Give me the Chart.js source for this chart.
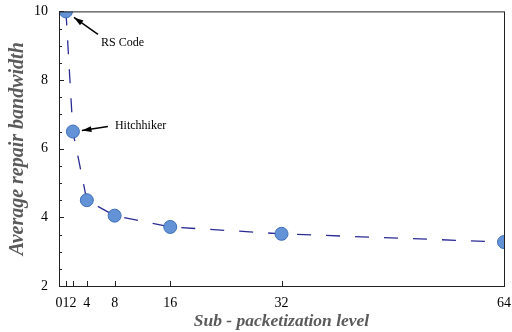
<!DOCTYPE html>
<html>
<head>
<meta charset="utf-8">
<script src="https://cdn.jsdelivr.net/npm/chart.js@4.4.0/dist/chart.umd.min.js"></script>
<style>
  html, body { margin: 0; padding: 0; background: #fff; }
  #wrap { width: 512px; height: 332px; }
</style>
</head>
<body>
<div id="wrap"><canvas id="chart" width="512" height="332"></canvas></div>
<script>
const levels = [1, 2, 4, 8, 16, 32, 64];
const bandwidth = [10, 6.5, 4.5, 4.05, 3.72, 3.52, 3.28];
const xTicks = [0, 1, 2, 4, 8, 16, 32, 64];
const yTicks = [2, 4, 6, 8, 10];

const serif = '"Liberation Serif", "DejaVu Serif", serif';

// box frame, inward ticks and the two callouts
const framePlugin = {
  id: 'frame',
  afterDraw(chart) {
    const ctx = chart.ctx;
    const a = chart.chartArea;
    const x = chart.scales.x, y = chart.scales.y;
    ctx.save();
    ctx.strokeStyle = '#222';
    ctx.lineWidth = 1;
    ctx.strokeRect(a.left + 0.5, a.top + 0.5, a.right - a.left, a.bottom - a.top);

    ctx.beginPath();
    for (let v = 2; v <= 10; v += 0.5) {
      const py = Math.round(y.getPixelForValue(v)) + 0.5;
      const len = (v % 2 === 0) ? 5 : 3;
      ctx.moveTo(a.left, py); ctx.lineTo(a.left + len, py);
    }
    xTicks.forEach(v => {
      const px = Math.round(x.getPixelForValue(v)) + 0.5;
      ctx.moveTo(px, a.bottom); ctx.lineTo(px, a.bottom - 5);
    });
    ctx.stroke();

    const arrow = (x0, y0, x1, y1) => {
      ctx.beginPath();
      ctx.moveTo(x0, y0); ctx.lineTo(x1, y1);
      ctx.lineWidth = 1.4;
      ctx.stroke();
      const ang = Math.atan2(y1 - y0, x1 - x0);
      ctx.beginPath();
      ctx.moveTo(x1, y1);
      ctx.lineTo(x1 - 10 * Math.cos(ang - 0.3), y1 - 10 * Math.sin(ang - 0.3));
      ctx.lineTo(x1 - 10 * Math.cos(ang + 0.3), y1 - 10 * Math.sin(ang + 0.3));
      ctx.closePath();
      ctx.fillStyle = '#000';
      ctx.fill();
    };
    ctx.strokeStyle = '#000';
    const p1x = x.getPixelForValue(levels[0]), p1y = y.getPixelForValue(bandwidth[0]);
    const p2x = x.getPixelForValue(levels[1]), p2y = y.getPixelForValue(bandwidth[1]);
    arrow(p1x + 32, p1y + 23, p1x + 8, p1y + 6);
    arrow(p2x + 35, p2y - 5, p2x + 9, p2y - 1);

    ctx.fillStyle = '#000';
    ctx.font = '12px ' + serif;
    ctx.textBaseline = 'middle';
    ctx.fillText('RS Code', p1x + 35, p1y + 31);
    ctx.fillText('Hitchhiker', p2x + 42, p2y - 6);
    ctx.restore();
  }
};

new Chart(document.getElementById('chart'), {
  type: 'line',
  data: {
    datasets: [{
      data: levels.map((l, i) => ({ x: l, y: bandwidth[i] })),
      borderColor: '#2b2b96',
      borderWidth: 1.3,
      borderDash: [14, 15],
      tension: 0,
      pointRadius: 6.5,
      pointBackgroundColor: '#6393d6',
      pointBorderColor: '#3f6fb8',
      pointBorderWidth: 1
    }]
  },
  options: {
    responsive: false,
    animation: false,
    layout: { padding: { top: 9, right: 7, left: 0, bottom: 0 } },
    plugins: { legend: { display: false }, tooltip: { enabled: false } },
    scales: {
      x: {
        type: 'linear',
        min: 0, max: 64,
        afterBuildTicks: s => { s.ticks = xTicks.map(v => ({ value: v })); },
        afterFit: s => { s.height = 46; },
        grid: { display: false },
        border: { display: false },
        ticks: {
          color: '#000', padding: 1, maxRotation: 0, autoSkip: false,
          font: { family: serif, size: 14 }
        },
        title: {
          display: true,
          text: 'Sub - packetization level',
          color: '#5a5a5a',
          padding: { top: 8, bottom: 0 },
          font: { family: serif, size: 17.5, style: 'italic', weight: 'bold' }
        }
      },
      y: {
        min: 2, max: 10,
        afterBuildTicks: s => { s.ticks = yTicks.map(v => ({ value: v })); },
        afterFit: s => { s.width = 59; },
        grid: { display: false },
        border: { display: false },
        ticks: {
          color: '#000', padding: 3,
          font: { family: serif, size: 14 }
        },
        title: {
          display: true,
          text: 'Average repair bandwidth',
          color: '#5a5a5a',
          padding: { top: 6, bottom: 0 },
          font: { family: serif, size: 20, style: 'italic', weight: 'bold' }
        }
      }
    }
  },
  plugins: [framePlugin]
});
</script>
</body>
</html>
